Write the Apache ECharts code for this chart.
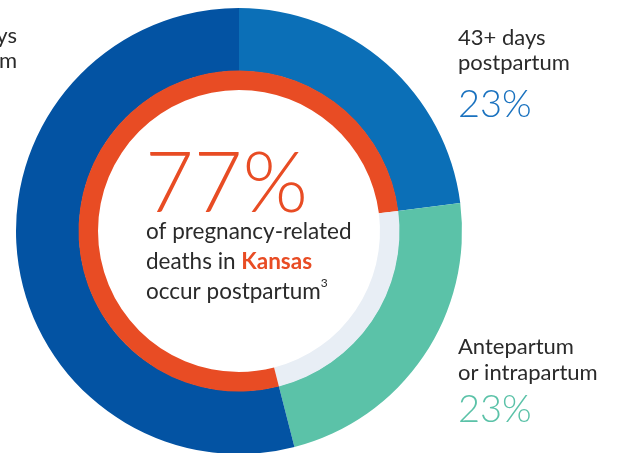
<!DOCTYPE html>
<html><head><meta charset="utf-8">
<script src="https://cdn.jsdelivr.net/npm/echarts@6/dist/echarts.min.js"></script>
<style>html,body{margin:0;padding:0;background:#fff}#c{width:623px;height:453px}</style>
</head><body><div id="c"></div>
<script>
// Outer ring: timing of pregnancy-related deaths (clockwise from 12 o'clock)
const outerCategories = ['43+ days postpartum', 'Antepartum or intrapartum', '0–42 days postpartum'];
const outerValues = [23, 23, 54];
const outerColors = ['#0b6fb7', '#5bc2a8', '#0353a3'];
// Inner ring: postpartum (77%) vs not (23%)
const innerCategories = ['Postpartum (43+)', 'Antepartum or intrapartum', 'Postpartum (0–42)'];
const innerValues = [23, 23, 54];
const innerColors = ['#e84c24', '#e8eef5', '#e84c24'];
const headline = '77%';
const labelPct = ['23%', '23%'];

const font = 'Lato, "Source Sans Pro", "Noto Sans", sans-serif';
const dark = '#2a2a2a';

const chart = echarts.init(document.getElementById('c'), null, {renderer: 'canvas'});
chart.setOption({
  animation: false,
  series: [
    {
      type: 'pie', center: [239, 231], radius: [160, 223], startAngle: 90, clockwise: true,
      silent: true, label: {show: false}, labelLine: {show: false},
      itemStyle: {borderWidth: 0},
      data: outerCategories.map((n, i) => ({name: n, value: outerValues[i], itemStyle: {color: outerColors[i]}}))
    },
    {
      type: 'pie', center: [239, 231], radius: [141, 160.5], startAngle: 90, clockwise: true,
      silent: true, label: {show: false}, labelLine: {show: false},
      itemStyle: {borderWidth: 0},
      data: innerCategories.map((n, i) => ({name: n, value: innerValues[i], itemStyle: {color: innerColors[i]}}))
    }
  ],
  graphic: [
    {type: 'text', left: 145, top: 143, style: {text: headline, font: '300 84px ' + font, fill: '#e84c24'}},
    {type: 'text', left: 146, top: 217, style: {
      text: 'of pregnancy-related\ndeaths in {b|Kansas}\noccur postpartum{s|3}',
      font: '400 22.5px ' + font, fill: dark, lineHeight: 30,
      rich: {
        b: {font: '700 22.5px ' + font, fill: '#e84c24', lineHeight: 30},
        s: {font: '400 12px ' + font, fill: dark, verticalAlign: 'top', lineHeight: 22}
      }
    }},
    {type: 'text', left: 458, top: 25, style: {text: '43+ days\npostpartum', font: '400 22px ' + font, fill: dark, lineHeight: 25}},
    {type: 'text', left: 458, top: 86, style: {text: labelPct[0], font: '300 38px ' + font, fill: '#1a72bf'}},
    {type: 'text', left: 458, top: 334, style: {text: 'Antepartum\nor intrapartum', font: '400 22px ' + font, fill: dark, lineHeight: 26}},
    {type: 'text', left: 458, top: 391, style: {text: labelPct[1], font: '300 38px ' + font, fill: '#5bc2a8'}},
    {type: 'text', style: {x: 17, y: 25, text: '0–42 days', font: '400 22px ' + font, fill: dark, align: 'right', verticalAlign: 'top'}},
    {type: 'text', style: {x: 17, y: 50, text: 'postpartum', font: '400 22px ' + font, fill: dark, align: 'right', verticalAlign: 'top'}}
  ]
});
</script></body></html>
